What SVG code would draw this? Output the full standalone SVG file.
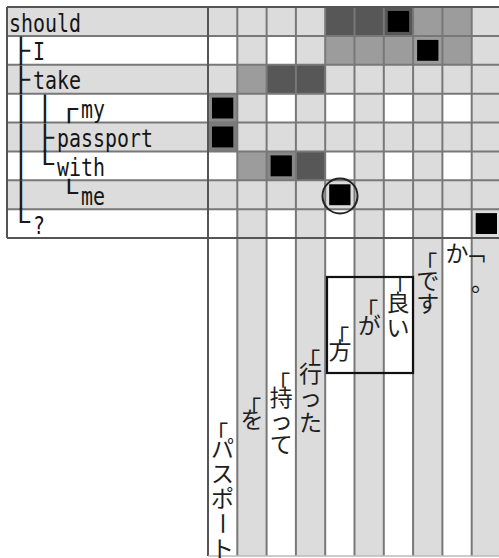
<svg xmlns="http://www.w3.org/2000/svg" width="499" height="558" viewBox="0 0 499 558">
<style>
.lg{fill:#dcdcdc}
.md{fill:#9c9c9c}
.dk{fill:#575757}
.bk{fill:#000}
.grid{stroke:#787878;stroke-width:2;fill:none}
.edge{stroke:#555;stroke-width:2;fill:none}
.lbl{font-family:"DejaVu Sans Mono","Liberation Mono",monospace;font-size:24px;fill:#151515}
.tree{font-family:"DejaVu Sans Mono",monospace;font-size:24px;fill:#1a1a1a}
.jp{font-family:"Noto Sans CJK JP",sans-serif;font-size:23px;fill:#1e1e1e;text-anchor:middle}
.mk{font-family:"Noto Sans CJK JP",sans-serif;font-size:23px;fill:#1e1e1e}
</style>
<rect x="0" y="0" width="499" height="558" fill="#fff"/>
<g id="stripes">
  <rect class="lg" x="237.3" y="7" width="29.3" height="549"/>
  <rect class="lg" x="295.9" y="7" width="29.3" height="549"/>
  <rect class="lg" x="354.5" y="7" width="29.3" height="549"/>
  <rect class="lg" x="413.1" y="7" width="29.3" height="549"/>
  <rect class="lg" x="471.7" y="7" width="29.3" height="549"/>
  <rect class="lg" x="7" y="7" width="494" height="28.875"/>
  <rect class="lg" x="7" y="64.75" width="494" height="28.875"/>
  <rect class="lg" x="7" y="122.5" width="494" height="28.875"/>
  <rect class="lg" x="7" y="180.25" width="494" height="28.875"/>
</g>
<g id="cells">
  <rect class="dk" x="325.2" y="7" width="29.3" height="28.875"/>
  <rect class="dk" x="354.5" y="7" width="29.3" height="28.875"/>
  <rect class="dk" x="383.8" y="7" width="29.3" height="28.875"/>
  <rect class="md" x="413.1" y="7" width="29.3" height="28.875"/>
  <rect class="md" x="442.4" y="7" width="29.3" height="28.875"/>
  <rect class="md" x="325.2" y="35.875" width="29.3" height="28.875"/>
  <rect class="md" x="354.5" y="35.875" width="29.3" height="28.875"/>
  <rect class="md" x="383.8" y="35.875" width="29.3" height="28.875"/>
  <rect class="md" x="413.1" y="35.875" width="29.3" height="28.875"/>
  <rect class="md" x="442.4" y="35.875" width="29.3" height="28.875"/>
  <rect class="md" x="237.3" y="64.75" width="29.3" height="28.875"/>
  <rect class="dk" x="266.6" y="64.75" width="29.3" height="28.875"/>
  <rect class="dk" x="295.9" y="64.75" width="29.3" height="28.875"/>
  <rect fill="#8a8a8a" x="208" y="93.625" width="29.3" height="28.875"/>
  <rect fill="#7c7c7c" x="208" y="122.5" width="29.3" height="28.875"/>
  <rect class="md" x="237.3" y="151.375" width="29.3" height="28.875"/>
  <rect fill="#888" x="266.6" y="151.375" width="29.3" height="28.875"/>
  <rect class="dk" x="295.9" y="151.375" width="29.3" height="28.875"/>
</g>
<g id="grid">
  <path class="grid" d="M7 35.875H501M7 64.75H501M7 93.625H501M7 122.5H501M7 151.375H501M7 180.25H501M7 209.125H501"/>
  <path class="grid" d="M237.3 7V556M266.6 7V556M295.9 7V556M325.2 7V556M354.5 7V556M383.8 7V556M413.1 7V556M442.4 7V556M471.7 7V556"/>
  <path class="edge" d="M7 7H501M7 238H501M7 7V238M208 7V556"/>
  <path d="M208 556H501" stroke="#bbb" stroke-width="1.5"/>
</g>
<g id="marks">
  <rect class="bk" x="387.8" y="11" width="21.3" height="20.9"/>
  <rect class="bk" x="417.1" y="39.9" width="21.3" height="20.9"/>
  <rect class="bk" x="212" y="97.6" width="21.3" height="20.9"/>
  <rect class="bk" x="212" y="126.5" width="21.3" height="20.9"/>
  <rect class="bk" x="270.6" y="155.4" width="21.3" height="20.9"/>
  <rect class="bk" x="329.2" y="184.3" width="21.3" height="20.9"/>
  <rect class="bk" x="475.7" y="213.1" width="21.3" height="20.9"/>
</g>
<g id="labels">
  <g id="row-should"><text class="lbl" x="9" y="31.5" textLength="72" lengthAdjust="spacingAndGlyphs">should</text></g>
  <g id="row-I"><text class="lbl" x="33" y="60.4" textLength="12" lengthAdjust="spacingAndGlyphs">I</text></g>
  <g id="row-take"><text class="lbl" x="33" y="89.25" textLength="48" lengthAdjust="spacingAndGlyphs">take</text></g>
  <g id="row-my"><text class="lbl" x="81" y="118.1" textLength="24" lengthAdjust="spacingAndGlyphs">my</text></g>
  <g id="row-passport"><text class="lbl" x="57" y="147" textLength="96" lengthAdjust="spacingAndGlyphs">passport</text></g>
  <g id="row-with"><text class="lbl" x="57" y="175.9" textLength="48" lengthAdjust="spacingAndGlyphs">with</text></g>
  <g id="row-me"><text class="lbl" x="81" y="204.75" textLength="24" lengthAdjust="spacingAndGlyphs">me</text></g>
  <g id="row-q"><text class="lbl" x="33" y="233.6" textLength="12" lengthAdjust="spacingAndGlyphs">?</text></g>
</g>
<g id="tree">
  <text class="tree" x="12" y="58.9" textLength="18" lengthAdjust="spacingAndGlyphs">├</text>
  <text class="tree" x="12" y="87.75" textLength="18" lengthAdjust="spacingAndGlyphs">├</text>
  <text class="tree" x="12" y="116.6" textLength="18" lengthAdjust="spacingAndGlyphs">│</text>
  <text class="tree" x="36" y="116.6" textLength="18" lengthAdjust="spacingAndGlyphs">│</text>
  <text class="tree" x="60" y="116.6" textLength="18" lengthAdjust="spacingAndGlyphs">┌</text>
  <text class="tree" x="12" y="145.5" textLength="18" lengthAdjust="spacingAndGlyphs">│</text>
  <text class="tree" x="36" y="145.5" textLength="18" lengthAdjust="spacingAndGlyphs">├</text>
  <text class="tree" x="12" y="174.4" textLength="18" lengthAdjust="spacingAndGlyphs">│</text>
  <text class="tree" x="36" y="171.9" textLength="18" lengthAdjust="spacingAndGlyphs">└</text>
  <text class="tree" x="12" y="203.25" textLength="18" lengthAdjust="spacingAndGlyphs">│</text>
  <text class="tree" x="60" y="200.75" textLength="18" lengthAdjust="spacingAndGlyphs">└</text>
  <text class="tree" x="12" y="229.6" textLength="18" lengthAdjust="spacingAndGlyphs">└</text>
</g>
<g id="columns">
  <g id="col-pasupoto">
    <text class="mk" x="205.35" y="442.3">「</text>
    <text class="jp" x="222.6" y="457">パ</text>
    <text class="jp" x="222.6" y="482">ス</text>
    <text class="jp" x="222.6" y="507">ポ</text>
    <text class="jp" x="222.6" y="532" transform="rotate(90 222.6 523.5)">ー</text>
    <text class="jp" x="222.6" y="557">ト</text>
  </g>
  <g id="col-wo">
    <text class="mk" x="238.35" y="417.3">「</text>
    <text class="jp" x="252" y="428">を</text>
  </g>
  <g id="col-motte">
    <text class="mk" x="267.35" y="392.3">「</text>
    <text class="jp" x="281.3" y="406">持</text>
    <text class="jp" x="281.3" y="429">っ</text>
    <text class="jp" x="281.3" y="453">て</text>
  </g>
  <g id="col-itta">
    <text class="mk" x="297.35" y="369.3">「</text>
    <text class="jp" x="310.5" y="382">行</text>
    <text class="jp" x="310.5" y="406">っ</text>
    <text class="jp" x="310.5" y="431">た</text>
  </g>
  <g id="col-hou">
    <text class="mk" x="326.35" y="346.3">「</text>
    <text class="jp" x="340" y="359">方</text>
  </g>
  <g id="col-ga">
    <text class="mk" x="355.35" y="319.3">「</text>
    <text class="jp" x="369.2" y="334">が</text>
  </g>
  <g id="col-yoi">
    <text class="mk" x="384.35" y="296.3">「</text>
    <text class="jp" x="398" y="311">良</text>
    <text class="jp" x="398" y="336">い</text>
  </g>
  <g id="col-desu">
    <text class="mk" x="414.35" y="272.3">「</text>
    <text class="jp" x="427.8" y="289">で</text>
    <text class="jp" x="427.8" y="312">す</text>
  </g>
  <g id="col-ka">
    <text class="jp" x="457" y="262">か</text>
  </g>
  <g id="col-maru">
    <text class="mk" transform="translate(464.7 240.3) rotate(90)">「</text>
    <text class="mk" x="471" y="291">。</text>
  </g>
</g>
<g id="highlights">
  <rect x="327" y="277" width="86" height="96" fill="none" stroke="#111" stroke-width="2.2"/>
  <circle cx="340" cy="196" r="17.5" fill="none" stroke="#222" stroke-width="2"/>
</g>
</svg>
